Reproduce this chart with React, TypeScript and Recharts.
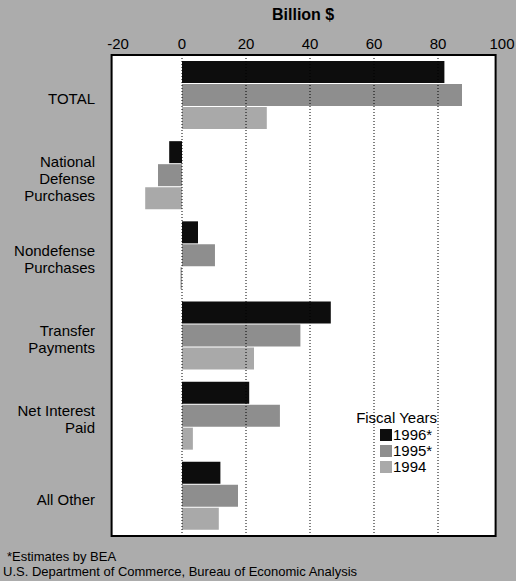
import { BarChart, Bar, XAxis, YAxis, ReferenceArea, ReferenceLine, Legend } from "recharts"

const categories = [
  "TOTAL",
  "National\nDefense\nPurchases",
  "Nondefense\nPurchases",
  "Transfer\nPayments",
  "Net Interest\nPaid",
  "All Other",
]
const fy1996 = [82, -4, 5, 46.5, 21, 12]
const fy1995 = [87.5, -7.5, 10.3, 37, 30.6, 17.5]
const fy1994 = [26.5, -11.5, -0.5, 22.5, 3.4, 11.5]

const xTicks = [-20, 0, 20, 40, 60, 80, 100]
const gridTicks = [0, 20, 40, 60, 80]

const series = [
  { key: "fy1996", label: "1996*", color: "#0d0d0d" },
  { key: "fy1995", label: "1995*", color: "#8e8e8e" },
  { key: "fy1994", label: "1994", color: "#a9a9a9" },
]

const data = categories.map((name, i) => ({
  name,
  fy1996: fy1996[i],
  fy1995: fy1995[i],
  fy1994: fy1994[i],
}))

const font = "'Liberation Sans', Arial, sans-serif"

function CategoryTick(props: any) {
  const { x, y, payload } = props
  const lines = String(payload.value).split("\n")
  const lh = 17
  const start = y + 3 - ((lines.length - 1) * lh) / 2
  return (
    <text x={x} y={start} textAnchor="end" fontSize={15} fontFamily={font} fill="#000" dominantBaseline="central">
      {lines.map((l, i) => (
        <tspan key={i} x={x} y={start + i * lh}>
          {l}
        </tspan>
      ))}
    </text>
  )
}

function ValueTick(props: any) {
  const { x, y, payload } = props
  return (
    <text x={x} y={y} textAnchor="middle" fontSize={15} fontFamily={font} fill="#000">
      {payload.value}
    </text>
  )
}

function LegendBox() {
  return (
    <div style={{ fontFamily: font, fontSize: 15, color: "#000", textAlign: "right", lineHeight: "16px" }}>
      <div style={{ marginBottom: 1 }}>Fiscal Years</div>
      {series.map((s) => (
        <div key={s.key} style={{ display: "flex", justifyContent: "flex-end", alignItems: "center" }}>
          <span style={{ width: 12, height: 12, background: s.color, marginRight: 1, display: "inline-block" }} />
          <span style={{ width: 44, textAlign: "left" }}>{s.label}</span>
        </div>
      ))}
    </div>
  )
}

export default function App() {
  return (
    <div style={{ position: "absolute", left: 0, top: 0, width: 516, height: 581, background: "#acacac", overflow: "hidden" }}>
      <div style={{ position: "absolute", left: 272, top: 6, fontFamily: font, fontSize: 16, fontWeight: "bold", color: "#000" }}>
        Billion $
      </div>
      <BarChart
        width={516}
        height={581}
        data={data}
        layout="vertical"
        margin={{ top: 20, right: 14, bottom: 45, left: 0 }}
        barSize={22}
        barGap={1}
      >
        <XAxis
          type="number"
          orientation="top"
          domain={[-20, 100]}
          ticks={xTicks}
          height={35}
          axisLine={false}
          tickLine={false}
          tickSize={0}
          tickMargin={6}
          tick={<ValueTick />}
          interval={0}
        />
        <YAxis
          type="category"
          dataKey="name"
          width={118}
          axisLine={false}
          tickLine={false}
          tickSize={0}
          tickMargin={23}
          tick={<CategoryTick />}
          interval={0}
        />
        <ReferenceArea x1={-22} x2={98} fill="#fff" fillOpacity={1} stroke="#000" strokeWidth={2} ifOverflow="visible" />
        {gridTicks.map((v) => (
          <ReferenceLine key={v} x={v} stroke="#000" strokeDasharray="1 2" strokeWidth={1} />
        ))}
        {series.map((s) => (
          <Bar key={s.key} dataKey={s.key} fill={s.color} isAnimationActive={false} />
        ))}
        <Legend
          layout="vertical"
          align="center"
          verticalAlign="middle"
          content={<LegendBox />}
          wrapperStyle={{ left: 340, top: 410, width: 97 }}
        />
      </BarChart>
      <div style={{ position: "absolute", left: 7, top: 549, fontFamily: font, fontSize: 13, color: "#000", lineHeight: "15px" }}>
        <div>*Estimates by BEA</div>
        <div style={{ marginLeft: -4 }}>U.S. Department of Commerce, Bureau of Economic Analysis</div>
      </div>
    </div>
  )
}
